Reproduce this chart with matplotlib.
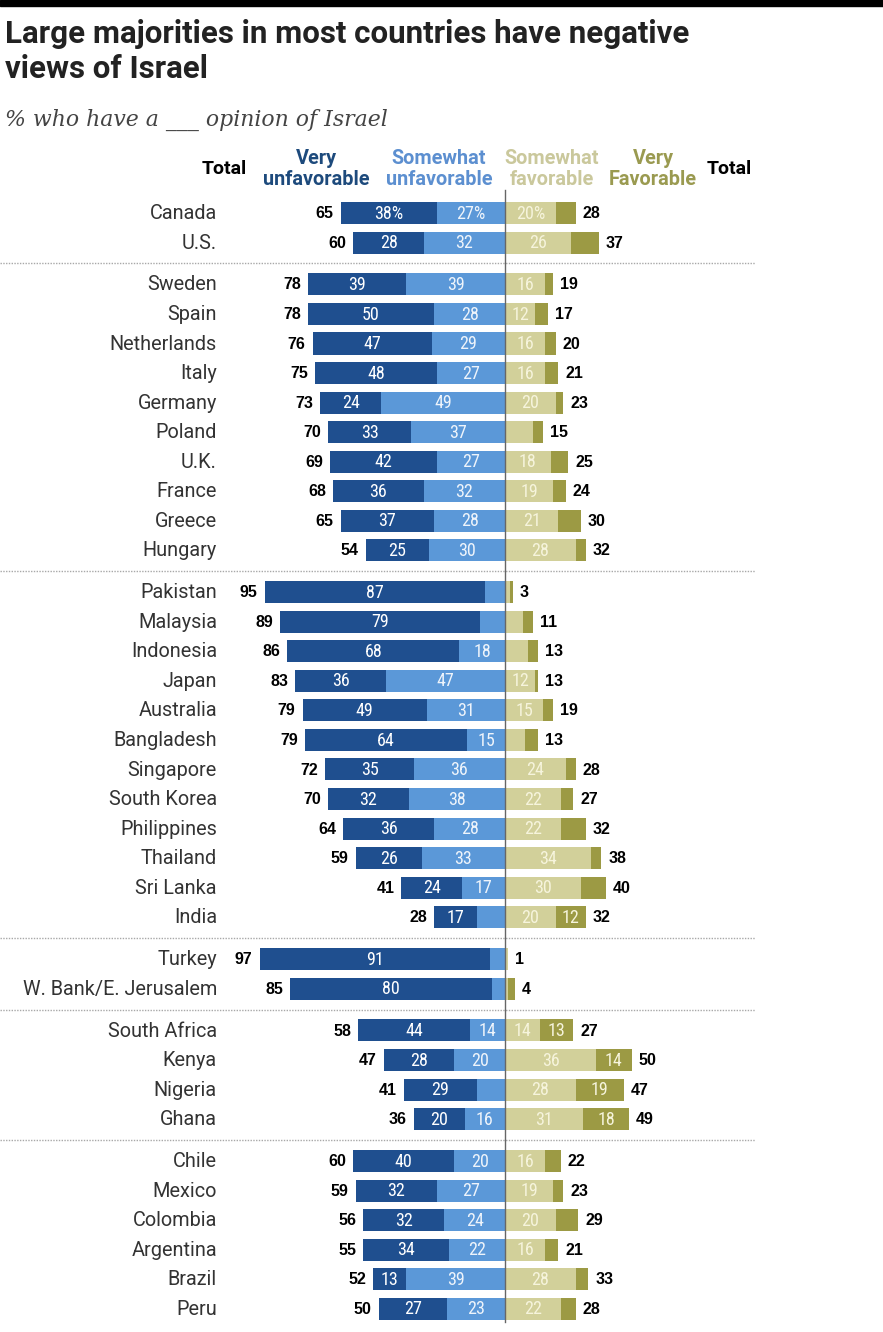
import matplotlib
matplotlib.use("Agg")
import matplotlib.pyplot as plt
from matplotlib import font_manager as fm

# ---------------- data ----------------
groups = [
    ["Canada", "U.S."],
    ["Sweden", "Spain", "Netherlands", "Italy", "Germany", "Poland", "U.K.",
     "France", "Greece", "Hungary"],
    ["Pakistan", "Malaysia", "Indonesia", "Japan", "Australia", "Bangladesh",
     "Singapore", "South Korea", "Philippines", "Thailand", "Sri Lanka", "India"],
    ["Turkey", "W. Bank/E. Jerusalem"],
    ["South Africa", "Kenya", "Nigeria", "Ghana"],
    ["Chile", "Mexico", "Colombia", "Argentina", "Brazil", "Peru"],
]
very_unfav = [38, 28,
              39, 50, 47, 48, 24, 33, 42, 36, 37, 25,
              87, 79, 68, 36, 49, 64, 35, 32, 36, 26, 24, 17,
              91, 80,
              44, 28, 29, 20,
              40, 32, 32, 34, 13, 27]
some_unfav = [27, 32,
              39, 28, 29, 27, 49, 37, 27, 32, 28, 30,
              8, 10, 18, 47, 31, 15, 36, 38, 28, 33, 17, 11,
              6, 5,
              14, 20, 11, 16,
              20, 27, 24, 22, 39, 23]
some_fav = [20, 26,
            16, 12, 16, 16, 20, 11, 18, 19, 21, 28,
            2, 7, 9, 12, 15, 8, 24, 22, 22, 34, 30, 20,
            1, 1,
            14, 36, 28, 31,
            16, 19, 20, 16, 28, 22]
very_fav = [8, 11,
            3, 5, 4, 5, 3, 4, 7, 5, 9, 4,
            1, 4, 4, 1, 4, 5, 4, 5, 10, 4, 10, 12,
            0, 3,
            13, 14, 19, 18,
            6, 4, 9, 5, 5, 6]
total_unfav = [65, 60,
               78, 78, 76, 75, 73, 70, 69, 68, 65, 54,
               95, 89, 86, 83, 79, 79, 72, 70, 64, 59, 41, 28,
               97, 85,
               58, 47, 41, 36,
               60, 59, 56, 55, 52, 50]
total_fav = [28, 37,
             19, 17, 20, 21, 23, 15, 25, 24, 30, 32,
             3, 11, 13, 13, 19, 13, 28, 27, 32, 38, 40, 32,
             1, 4,
             27, 50, 47, 49,
             22, 23, 29, 21, 33, 28]
legend_labels = ["Very\nunfavorable", "Somewhat\nunfavorable",
                 "Somewhat\nfavorable", "Very\nFavorable"]

# ---------------- style ----------------
C_VU = "#1f4f8f"
C_SU = "#5b98d8"
C_SF = "#d2d09a"
C_VF = "#9c9a44"
HDR = ["#1d4a7c", "#5c8fd0", "#cac89c", "#9a9a50"]

avail = {f.name for f in fm.fontManager.ttflist}
def pick(*names):
    for n in names:
        if n in avail:
            return n
    return "DejaVu Sans"
COND = pick("Roboto Condensed", "Liberation Sans Narrow", "Open Sans Condensed",
            "Liberation Sans")
ROBO = pick("Roboto", "Liberation Sans", "DejaVu Sans")
SANS = pick("Liberation Sans", "Roboto", "DejaVu Sans")
SERIF = pick("DejaVu Serif", "Liberation Serif")

W, H = 883, 1332
fig = plt.figure(figsize=(W / 100, H / 100), dpi=100)
ax = fig.add_axes([0, 0, 1, 1])
ax.axis("off")

# pixel geometry -> data units
CX, PXU = 505.0, 2.53          # centre pixel, pixels per percentage point
Y0, ROW, GAP = 213.0, 29.55, 0.416
ax.set_xlim(-CX / PXU, (W - CX) / PXU)
ax.set_ylim((H - Y0) / ROW, -Y0 / ROW)

def px(x):  # pixel width -> data units (x)
    return x / PXU

# row positions
ys, names, dividers = [], [], []
pos = 0.0
for gi, g in enumerate(groups):
    if gi > 0:
        dividers.append(pos - 1 + (1 + GAP) / 2)
        pos += GAP
    for n in g:
        ys.append(pos)
        names.append(n)
        pos += 1

bh = 0.745
ax.barh(ys, [-v for v in very_unfav], left=[-s for s in some_unfav],
        height=bh, color=C_VU, zorder=2)
ax.barh(ys, [-v for v in some_unfav], left=0, height=bh, color=C_SU, zorder=2)
ax.barh(ys, some_fav, left=0, height=bh, color=C_SF, zorder=2)
ax.barh(ys, very_fav, left=some_fav, height=bh, color=C_VF, zorder=2)

lab_fs = 13
for i, y in enumerate(ys):
    suf = "%" if i == 0 else ""
    vu, su, sf, vf = very_unfav[i], some_unfav[i], some_fav[i], very_fav[i]
    segs = [(-su - vu / 2, vu, "white"), (-su / 2, su, "#eef4fb"),
            (sf / 2, sf, "#f6f4dc"), (sf + vf / 2, vf, "#f6f4dc")]
    for xc, v, col in segs:
        if v >= 12:
            ax.text(xc, y + 0.02, f"{v}{suf}", ha="center", va="center",
                    fontsize=lab_fs, color=col, family=COND, zorder=3)
    ax.text(-(vu + su) - px(7), y + 0.02, str(total_unfav[i]), ha="right",
            va="center", fontsize=11.5, fontweight="bold", color="black",
            family=SANS)
    ax.text(sf + vf + px(7), y + 0.02, str(total_fav[i]), ha="left",
            va="center", fontsize=11.5, fontweight="bold", color="black",
            family=SANS)
    ax.text(px(217 - CX), y + 0.02, names[i], ha="right", va="center",
            fontsize=14.3, color="#333333", family=ROBO)

# dividers
for d in dividers:
    ax.plot([px(0 - CX), px(755 - CX)], [d, d], color="#a8a8a8", lw=1.0,
            ls=(0, (1, 1)), zorder=1)

# centre line
ax.plot([0, 0], [(190 - Y0) / ROW, (1322 - Y0) / ROW], color="#666666",
        lw=1.0, zorder=4)

# headers
hy = (169 - Y0) / ROW
hx = [316, 439, 552, 653]
for x, t, c in zip(hx, legend_labels, HDR):
    ax.text(px(x - CX), hy, t, ha="center", va="center", fontsize=14.3,
            fontweight="bold", color=c, family=ROBO, linespacing=1.15)
ax.text(px(224 - CX), hy, "Total", ha="center", va="center", fontsize=14,
        fontweight="bold", color="black", family=ROBO)
ax.text(px(729 - CX), hy, "Total", ha="center", va="center", fontsize=14,
        fontweight="bold", color="black", family=ROBO)

# title / subtitle / top band
fig.patches.append(plt.Rectangle((0, 1 - 6 / H), 1, 6 / H, transform=fig.transFigure,
                                 color="black", zorder=5))
fig.text(5 / W, 1 - 19 / H, "Large majorities in most countries have negative\nviews of Israel",
         ha="left", va="top", fontsize=22.5, fontweight="bold", color="#222222",
         family=ROBO, linespacing=1.22)
fig.text(5 / W, 1 - 120 / H, "% who have a ___ opinion of Israel", ha="left",
         va="center", fontsize=15.8, style="italic", color="#444444", family=SERIF)

fig.savefig("out.png", dpi=100, facecolor="white")
